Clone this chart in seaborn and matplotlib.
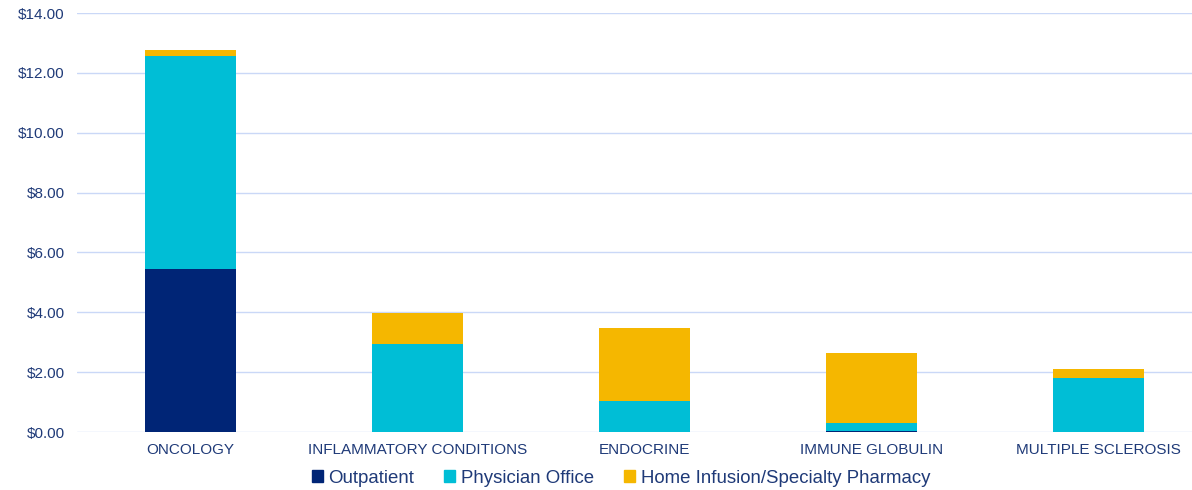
import matplotlib.pyplot as plt
import numpy as np
import pandas as pd
import seaborn as sns
from matplotlib.patches import Patch
from matplotlib.ticker import FuncFormatter

categories = ['ONCOLOGY', 'INFLAMMATORY CONDITIONS', 'ENDOCRINE', 'IMMUNE GLOBULIN', 'MULTIPLE SCLEROSIS']
outpatient = [5.45, 0.0, 0.0, 0.05, 0.0]
physician = [7.11, 2.93, 1.05, 0.26, 1.81]
home = [0.20, 1.04, 2.41, 2.32, 0.29]
series = ['Outpatient', 'Physician Office', 'Home Infusion/Specialty Pharmacy']

colors = ['#002576', '#00BED6', '#F5B700']
navy = '#1F3A78'

df = pd.DataFrame({'cat': categories, 'out': outpatient, 'phys': physician, 'home': home})
df['lvl1'] = df['out']
df['lvl2'] = df['out'] + df['phys']
df['lvl3'] = df['lvl2'] + df['home']

sns.set_style('white')
plt.rcParams['font.family'] = ['Liberation Sans', 'DejaVu Sans']

fig = plt.figure(figsize=(11.92, 4.9), dpi=100)
ax = fig.add_axes([77 / 1192, 58 / 490, 1115 / 1192, 419 / 490])

# stacked bars: draw cumulative totals from the top down
for col, c in zip(['lvl3', 'lvl2', 'lvl1'], colors[::-1]):
    sns.barplot(data=df, x='cat', y=col, color=c, width=0.4, ax=ax,
                saturation=1, edgecolor='none', zorder=3)

ax.set_ylim(0, 14)
ax.set_xlim(-0.5, -0.5 + 1115 / 227)
ax.set_yticks(np.arange(0, 15, 2))
ax.yaxis.set_major_formatter(FuncFormatter(lambda v, p: f'${v:.2f}'))
ax.grid(axis='y', color='#CAD8F7', linewidth=1, zorder=0)
ax.set_axisbelow(True)
for s in ax.spines.values():
    s.set_visible(False)
ax.set_xlabel('')
ax.set_ylabel('')
ax.tick_params(axis='both', length=0, labelsize=11, colors=navy)
ax.tick_params(axis='y', pad=9)
ax.tick_params(axis='x', pad=8)

handles = [Patch(color=c, label=s) for c, s in zip(colors, series)]
fig.legend(handles=handles, loc='center', bbox_to_anchor=(621 / 1192, 1 - 478 / 490),
           ncol=3, frameon=False, fontsize=13.4, handlelength=0.6, handleheight=0.6,
           handletextpad=0.3, columnspacing=1.6, labelcolor=navy)

fig.savefig('out.png', dpi=100)
